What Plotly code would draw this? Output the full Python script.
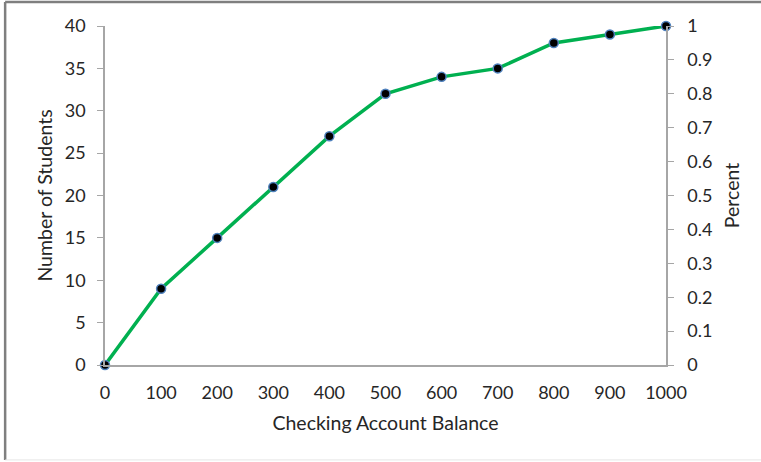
import plotly.graph_objects as go

balance = [0, 100, 200, 300, 400, 500, 600, 700, 800, 900, 1000]
students = [0, 9, 15, 21, 27, 32, 34, 35, 38, 39, 40]
total = 40
percent = [s / total for s in students]

font = "Lato, 'Open Sans', sans-serif"
axis_col = "#A6A6A6"
txt_col = "#262626"
tick_font = dict(size=18, color=txt_col, family=font)
title_font = dict(size=19.5, color=txt_col, family=font)

fig = go.Figure()
fig.add_trace(go.Scatter(
    x=balance, y=students, mode="lines+markers",
    line=dict(color="#00B050", width=3.5),
    marker=dict(size=9, color="black", line=dict(color="#4F81BD", width=1.5)),
    cliponaxis=False, showlegend=False,
))
fig.add_trace(go.Scatter(
    x=balance, y=percent, yaxis="y2", mode="lines",
    line=dict(width=0), opacity=0, showlegend=False, hoverinfo="skip",
))

fig.update_layout(
    width=761, height=462,
    margin=dict(l=105, r=95, t=26, b=97, autoexpand=False),
    paper_bgcolor="white", plot_bgcolor="white",
    font=dict(family=font, size=16, color=txt_col),
    xaxis=dict(range=[0, 1000], tickvals=balance, ticks="", showgrid=False,
               zeroline=False, showline=True, linecolor=axis_col, linewidth=1.5,
               ticklabelstandoff=11, automargin=False,
               title=dict(text="Checking Account Balance", standoff=14, font=title_font),
               tickfont=tick_font),
    yaxis=dict(range=[0, 40], dtick=5, ticks="outside", ticklen=6, tickcolor=axis_col,
               showgrid=False, zeroline=False, showline=True, linecolor=axis_col,
               linewidth=1.5, ticklabelstandoff=8, tickfont=tick_font, automargin=False,
               title=dict(text="Number of Students", standoff=7, font=title_font)),
    yaxis2=dict(range=[0, 1], dtick=0.1, overlaying="y", side="right",
                ticks="outside", ticklen=6, tickcolor=axis_col, showgrid=False,
                zeroline=False, showline=True, linecolor=axis_col, linewidth=1.5,
                ticklabelstandoff=10, tickfont=tick_font, automargin=False,
                title=dict(text="Percent", standoff=14, font=title_font)),
    shapes=[
        dict(type="line", xref="paper", yref="paper", x0=-0.178, x1=1.2, y0=1.071, y1=1.071,
             line=dict(color="#7F7F7F", width=2.5)),
        dict(type="line", xref="paper", yref="paper", x0=-0.178, x1=-0.178, y0=1.071, y1=-0.28,
             line=dict(color="#7F7F7F", width=2.5)),
        dict(type="line", xref="paper", yref="paper", x0=-0.178, x1=1.2, y0=-0.28, y1=-0.28,
             line=dict(color="#E6E6E6", width=1)),
    ],
)
fig.write_html("out.html", config={"displayModeBar": False},
               post_script="document.body.style.margin='0';document.body.style.padding='0';")
